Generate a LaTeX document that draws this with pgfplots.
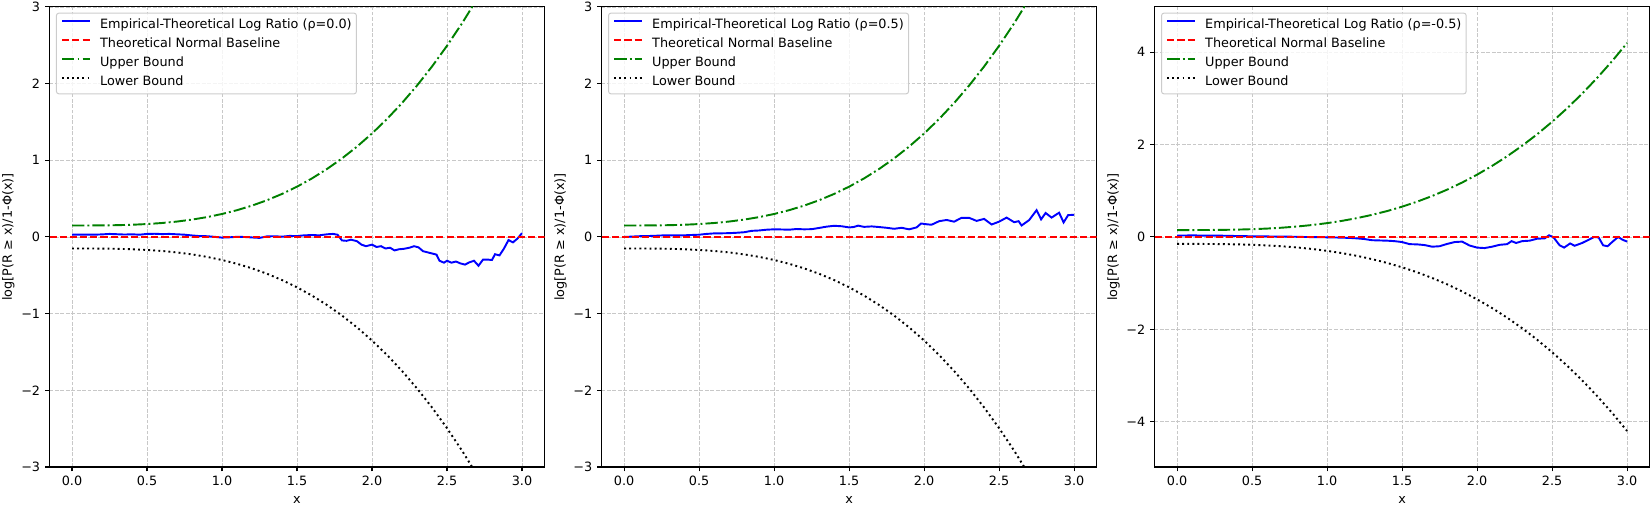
\documentclass[border=0pt]{standalone}
\usepackage{fontspec}
\setmainfont{DejaVu Sans}
\usepackage{pgfplots}
\usepackage{pgfplotstable}
\pgfplotsset{compat=1.18}

\definecolor{mplgreen}{rgb}{0,0.5,0}
\definecolor{gridgray}{RGB}{200,200,200}
\definecolor{legedge}{RGB}{204,204,204}

% pieces shared by the three panels
\pgfplotsset{
  panel/.style={
    scale only axis,
    width=247.5pt, height=230pt,
    anchor=south west,
    xmin=-0.15, xmax=3.15,
    xtick={0,0.5,1,1.5,2,2.5,3},
    xticklabels={0.0,0.5,1.0,1.5,2.0,2.5,3.0},
    tick pos=left,
    tick align=outside,
    major tick length=2.24pt,
    every tick/.style={black, line width=0.51pt},
    axis line style={line width=0.51pt},
    grid=major,
    major grid style={gridgray, line width=0.45pt, dash pattern=on 1.9pt off 0.82pt},
    font=\fontsize{6.4}{7.7}\selectfont,
    ticklabel style={font=\fontsize{6.4}{7.7}\selectfont, inner sep=0pt},
    xticklabel style={yshift=-2.24pt},
    yticklabel style={xshift=-2.24pt},
    xlabel={x},
    ylabel={log[P(R ≥ x)/1-Φ(x)]},
    xlabel style={at={(axis description cs:0.5,-0.0718)}, anchor=center},
    ylabel style={at={(axis description cs:-0.083,0.5)}, anchor=center},
    legend cell align=left,
    legend style={
      at={(0,1)}, anchor=north west, xshift=3.2pt, yshift=-2.8pt,
      draw=legedge, line width=0.5pt, fill=white, fill opacity=0.8, text opacity=1,
      rounded corners=1.3pt,
      inner xsep=2.4pt, inner ysep=2.7pt,
      font=\fontsize{6.4}{7.7}\selectfont,
      row sep=3.2pt, column sep=4.5pt,
      nodes={inner sep=0pt, text height=4.9pt, text depth=1.45pt},
      cells={anchor=west},
    },
    legend image code/.code={\draw[#1] (0pt,1.9pt) -- (14pt,1.9pt);},
  },
  emp/.style={blue, line width=0.96pt},
  base/.style={red, line width=0.96pt, dash pattern=on 3.55pt off 1.54pt},
  ub/.style={mplgreen, line width=0.96pt, dash pattern=on 6.14pt off 1.54pt on 0.96pt off 1.54pt},
  lb/.style={black, line width=0.96pt, dash pattern=on 0.96pt off 1.58pt},
}

\pgfplotstableread{
x     up
0.0   0.15
0.1   0.15015
0.2   0.1512
0.3   0.15405
0.4   0.1596
0.5   0.16875
0.6   0.1824
0.7   0.20145
0.8   0.2268
0.9   0.25935
1.0   0.3
1.1   0.34965
1.2   0.4092
1.3   0.47955
1.4   0.5616
1.5   0.65625
1.6   0.7644
1.7   0.88695
1.8   1.0248
1.9   1.17885
2.0   1.35
2.1   1.53915
2.2   1.7472
2.3   1.97505
2.4   2.2236
2.5   2.49375
2.6   2.7864
2.7   3.10245
2.8   3.4428
2.9   3.80835
3.0   4.2
}\upperbound

\pgfplotstableread{
x     lo
0.0   -0.15
0.1   -0.15015
0.2   -0.1512
0.3   -0.15405
0.4   -0.1596
0.5   -0.16875
0.6   -0.1824
0.7   -0.20145
0.8   -0.2268
0.9   -0.25935
1.0   -0.3
1.1   -0.34965
1.2   -0.4092
1.3   -0.47955
1.4   -0.5616
1.5   -0.65625
1.6   -0.7644
1.7   -0.88695
1.8   -1.0248
1.9   -1.17885
2.0   -1.35
2.1   -1.53915
2.2   -1.7472
2.3   -1.97505
2.4   -2.2236
2.5   -2.49375
2.6   -2.7864
2.7   -3.10245
2.8   -3.4428
2.9   -3.80835
3.0   -4.2
}\lowerbound

\begin{document}
\begin{tikzpicture}
\path[use as bounding box] (0pt,0pt) rectangle (825pt,253.5pt);

% ---- rho = 0.0 ----
\begin{axis}[panel, at={(24.75pt,20pt)},
    ymin=-3, ymax=3,
    ytick={-3,-2,-1,0,1,2,3},
    yticklabels={−3,−2,−1,0,1,2,3}]
\addplot[emp] coordinates {
(0.00,0.030)(0.05,0.030)(0.10,0.032)(0.15,0.030)(0.20,0.034)(0.25,0.040)(0.30,0.036)
(0.35,0.032)(0.40,0.035)(0.45,0.030)(0.50,0.040)(0.55,0.042)(0.60,0.038)(0.65,0.040)
(0.70,0.035)(0.75,0.030)(0.80,0.020)(0.85,0.012)(0.90,0.010)(0.95,0.002)(1.00,-0.008)
(1.05,-0.004)(1.10,0.002)(1.15,0.000)(1.20,-0.006)(1.25,-0.012)(1.30,0.008)(1.35,0.010)
(1.40,0.004)(1.45,0.014)(1.50,0.012)(1.55,0.022)(1.60,0.025)(1.65,0.022)(1.70,0.035)
(1.74,0.040)(1.77,0.030)(1.80,-0.045)(1.83,-0.050)(1.86,-0.035)(1.90,-0.055)(1.93,-0.100)
(1.96,-0.120)(2.00,-0.100)(2.03,-0.130)(2.06,-0.120)(2.09,-0.150)(2.12,-0.140)(2.15,-0.175)
(2.18,-0.160)(2.21,-0.155)(2.25,-0.140)(2.28,-0.120)(2.31,-0.135)(2.34,-0.185)(2.37,-0.200)
(2.40,-0.215)(2.43,-0.230)(2.45,-0.310)(2.48,-0.335)(2.50,-0.310)(2.53,-0.335)(2.56,-0.320)
(2.59,-0.345)(2.62,-0.360)(2.65,-0.330)(2.68,-0.310)(2.71,-0.375)(2.74,-0.295)(2.77,-0.295)
(2.80,-0.300)(2.82,-0.225)(2.85,-0.240)(2.88,-0.150)(2.91,-0.040)(2.94,-0.070)(2.97,-0.020)
(3.00,0.050)};
\addlegendentry{Empirical-Theoretical Log Ratio (ρ=0.0)}
\addplot[base] coordinates {(-0.15,0) (3.15,0)};
\addlegendentry{Theoretical Normal Baseline}
\addplot[ub] table[x=x, y=up] {\upperbound};
\addlegendentry{Upper Bound}
\addplot[lb] table[x=x, y=lo] {\lowerbound};
\addlegendentry{Lower Bound}
\end{axis}

% ---- rho = 0.5 ----
\begin{axis}[panel, at={(300.8pt,20pt)},
    ymin=-3, ymax=3,
    ytick={-3,-2,-1,0,1,2,3},
    yticklabels={−3,−2,−1,0,1,2,3}]
\addplot[emp] coordinates {
(0.00,0.000)(0.05,0.005)(0.10,0.010)(0.15,0.012)(0.20,0.015)(0.25,0.020)(0.30,0.022)
(0.35,0.020)(0.40,0.022)(0.45,0.026)(0.50,0.030)(0.55,0.040)(0.60,0.047)(0.65,0.048)
(0.70,0.050)(0.75,0.055)(0.80,0.062)(0.85,0.080)(0.90,0.085)(0.95,0.095)(1.00,0.100)
(1.05,0.098)(1.10,0.095)(1.15,0.104)(1.20,0.100)(1.25,0.102)(1.30,0.118)(1.35,0.135)
(1.40,0.146)(1.45,0.140)(1.50,0.125)(1.53,0.130)(1.56,0.148)(1.60,0.132)(1.65,0.138)
(1.70,0.130)(1.75,0.120)(1.80,0.107)(1.85,0.120)(1.90,0.100)(1.95,0.125)(1.98,0.176)
(2.02,0.165)(2.05,0.160)(2.10,0.206)(2.15,0.222)(2.20,0.200)(2.25,0.250)(2.30,0.250)
(2.35,0.210)(2.40,0.236)(2.45,0.163)(2.50,0.200)(2.55,0.253)(2.60,0.193)(2.63,0.206)
(2.65,0.150)(2.70,0.220)(2.75,0.350)(2.78,0.230)(2.81,0.313)(2.85,0.253)(2.90,0.317)
(2.93,0.190)(2.96,0.285)(3.00,0.290)};
\addlegendentry{Empirical-Theoretical Log Ratio (ρ=0.5)}
\addplot[base] coordinates {(-0.15,0) (3.15,0)};
\addlegendentry{Theoretical Normal Baseline}
\addplot[ub] table[x=x, y=up] {\upperbound};
\addlegendentry{Upper Bound}
\addplot[lb] table[x=x, y=lo] {\lowerbound};
\addlegendentry{Lower Bound}
\end{axis}

% ---- rho = -0.5 ----
\begin{axis}[panel, at={(577.3pt,20pt)},
    ymin=-4.98, ymax=4.98,
    ytick={-4,-2,0,2,4},
    yticklabels={−4,−2,0,2,4}]
\addplot[emp] coordinates {
(0.00,0.030)(0.05,0.032)(0.10,0.035)(0.15,0.032)(0.20,0.030)(0.25,0.030)(0.30,0.028)
(0.35,0.025)(0.40,0.020)(0.45,0.018)(0.50,0.015)(0.55,0.014)(0.60,0.012)(0.65,0.010)
(0.70,0.008)(0.75,0.007)(0.80,0.004)(0.85,0.000)(0.90,-0.002)(0.95,-0.004)(1.00,-0.007)
(1.05,-0.010)(1.10,-0.015)(1.15,-0.020)(1.20,-0.030)(1.25,-0.045)(1.30,-0.070)(1.35,-0.075)
(1.40,-0.080)(1.45,-0.090)(1.50,-0.110)(1.55,-0.155)(1.60,-0.160)(1.65,-0.175)(1.70,-0.210)
(1.75,-0.200)(1.80,-0.150)(1.85,-0.110)(1.90,-0.100)(1.95,-0.185)(2.00,-0.230)(2.05,-0.240)
(2.10,-0.210)(2.15,-0.170)(2.20,-0.155)(2.23,-0.090)(2.26,-0.130)(2.30,-0.090)(2.35,-0.080)
(2.40,-0.037)(2.45,-0.030)(2.48,0.037)(2.51,-0.010)(2.55,-0.180)(2.58,-0.230)(2.62,-0.140)
(2.65,-0.190)(2.70,-0.130)(2.75,-0.050)(2.78,0.000)(2.81,-0.010)(2.84,-0.180)(2.87,-0.200)
(2.90,-0.110)(2.94,0.000)(2.97,-0.060)(3.00,-0.100)};
\addlegendentry{Empirical-Theoretical Log Ratio (ρ=-0.5)}
\addplot[base] coordinates {(-0.15,0) (3.15,0)};
\addlegendentry{Theoretical Normal Baseline}
\addplot[ub] table[x=x, y=up] {\upperbound};
\addlegendentry{Upper Bound}
\addplot[lb] table[x=x, y=lo] {\lowerbound};
\addlegendentry{Lower Bound}
\end{axis}
\end{tikzpicture}
\end{document}
